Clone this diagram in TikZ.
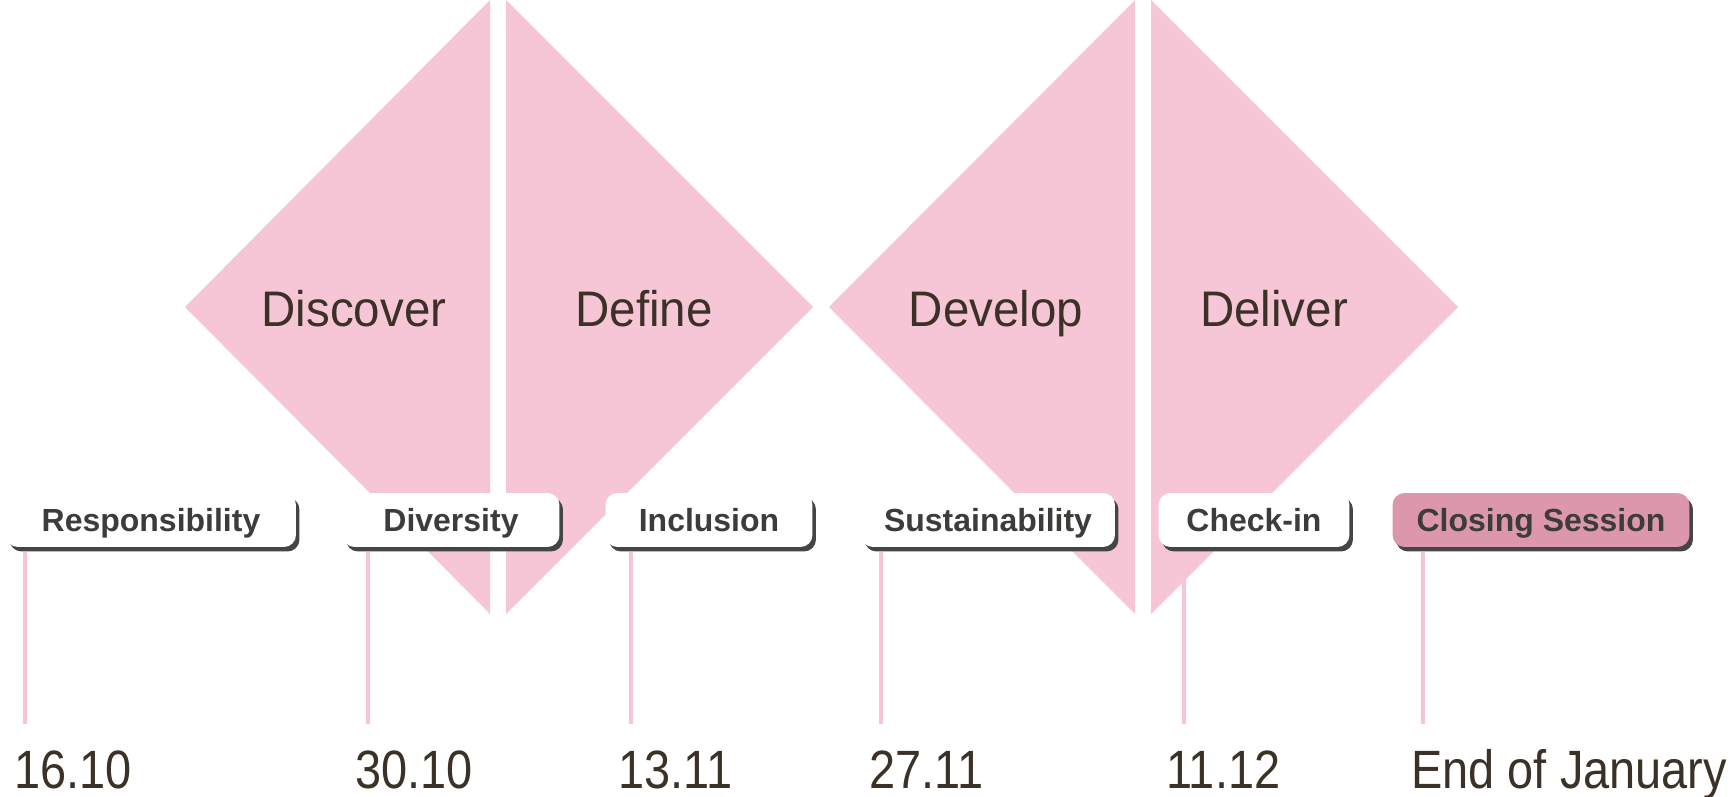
\documentclass[tikz,border=0pt]{standalone}
\usepackage{fontspec}
\setmainfont{Liberation Sans}
\newfontfamily\datefont{Liberation Sans}[FakeStretch=0.87]
\newfontfamily\phasefont{Liberation Sans}[FakeStretch=0.95]
\usetikzlibrary{shadows}

\definecolor{petalpink}{HTML}{F6C6D7}
\definecolor{closepink}{HTML}{DD97AD}
\definecolor{darkbrown}{HTML}{3B3127}
\definecolor{boxtext}{HTML}{3C3C3A}
\definecolor{shadowgray}{HTML}{454545}

\begin{document}
\begin{tikzpicture}[x=0.02cm,y=-0.02cm,
		petal/.style={fill=petalpink},
		phase/.style={anchor=base,text=darkbrown,font=\phasefont\fontsize{28.45pt}{34pt}\selectfont},
		topic/.style={rounded corners=0.24cm,fill=white,minimum height=1.08cm,inner sep=0pt,text height=13pt,text depth=0pt,text=boxtext,font=\bfseries\fontsize{18.2pt}{22pt}\selectfont,drop shadow={shadow xshift=0.07cm,shadow yshift=-0.09cm,fill=shadowgray,opacity=1}},
		date/.style={anchor=base west,inner sep=0pt,text=darkbrown,font=\datefont\fontsize{30.7pt}{36pt}\selectfont},
		stem/.style={draw=petalpink,line width=2.5pt}]
	\useasboundingbox (0,0) rectangle (1734,797);
	% double diamond
	\fill[petal] (490,0) -- (185,307) -- (490,614) -- cycle;
	\fill[petal] (506,0) -- (813,307) -- (506,614) -- cycle;
	\fill[petal] (1135,0) -- (829,307) -- (1135,614) -- cycle;
	\fill[petal] (1151,0) -- (1458,307) -- (1151,614) -- cycle;
	\node[phase] (discover) at (354,326) {Discover};
	\node[phase] (define) at (644,326) {Define};
	\node[phase] (develop) at (996,326) {Develop};
	\node[phase] (deliver) at (1274,326) {Deliver};
	% sessions
	\node[topic,minimum width=5.8cm] (resp) at (151,520) {Responsibility};
	\node[topic,minimum width=4.34cm] (div) at (451,520) {Diversity};
	\node[topic,minimum width=4.14cm] (incl) at (709,520) {Inclusion};
	\node[topic,minimum width=5.08cm] (sust) at (988,520) {Sustainability};
	\node[topic,minimum width=3.82cm] (check) at (1254,520) {Check-in};
	\node[topic,minimum width=5.94cm,fill=closepink] (close) at (1541,520) {Closing Session};
	% dates
	\coordinate (t1) at (25,724);
	\coordinate (t2) at (368,724);
	\coordinate (t3) at (631,724);
	\coordinate (t4) at (881,724);
	\coordinate (t5) at (1184,724);
	\coordinate (t6) at (1423,724);
	\draw[stem] ([yshift=-0.09cm]resp.south -| t1) -- (t1);
	\draw[stem] ([yshift=-0.09cm]div.south -| t2) -- (t2);
	\draw[stem] ([yshift=-0.09cm]incl.south -| t3) -- (t3);
	\draw[stem] ([yshift=-0.09cm]sust.south -| t4) -- (t4);
	\draw[stem] ([yshift=-0.09cm]check.south -| t5) -- (t5);
	\draw[stem] ([yshift=-0.09cm]close.south -| t6) -- (t6);
	\node[date] (d1) at (14,788) {16.10};
	\node[date] (d2) at (355,788) {30.10};
	\node[date] (d3) at (618,788) {13.11};
	\node[date] (d4) at (869,788) {27.11};
	\node[date] (d5) at (1166,788) {11.12};
	\node[date] (d6) at (1411,788) {End of January};
\end{tikzpicture}
\end{document}
